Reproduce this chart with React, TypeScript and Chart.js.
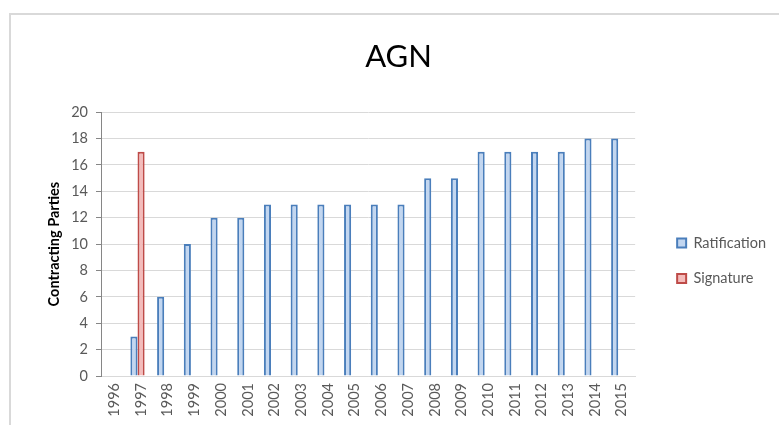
import React, { useEffect, useRef } from "react";
import { Chart, registerables } from "chart.js";

Chart.register(...registerables);

const years = ["1996", "1997", "1998", "1999", "2000", "2001", "2002", "2003", "2004", "2005", "2006", "2007", "2008", "2009", "2010", "2011", "2012", "2013", "2014", "2015"];
const ratification: (number | null)[] = [null, 3, 6, 10, 12, 12, 13, 13, 13, 13, 13, 13, 15, 15, 17, 17, 17, 17, 18, 18];
const signature: (number | null)[] = [null, 17, null, null, null, null, null, null, null, null, null, null, null, null, null, null, null, null, null, null];
const emptySeries: (number | null)[] = years.map(() => null);
const yTicks = [0, 2, 4, 6, 8, 10, 12, 14, 16, 18, 20];

const FONT = "Lato, 'Open Sans', sans-serif";

export default function App() {
  const ref = useRef<HTMLCanvasElement | null>(null);

  useEffect(() => {
    if (!ref.current) return;
    const chart = new Chart(ref.current, {
      type: "bar",
      data: {
        labels: years,
        datasets: [
          {
            label: "Ratification",
            data: ratification,
            backgroundColor: "#c2d6f0",
            borderColor: "#4a7ebb",
            borderWidth: 2,
            categoryPercentage: 0.8,
            barPercentage: 1,
            yAxisID: "y",
          },
          {
            label: "Signature",
            data: signature,
            backgroundColor: "#f4bcbb",
            borderColor: "#be4b48",
            borderWidth: 2,
            categoryPercentage: 0.8,
            barPercentage: 1,
            yAxisID: "y",
          },
          {
            label: "",
            data: emptySeries,
            categoryPercentage: 0.8,
            barPercentage: 1,
            yAxisID: "y",
          },
        ],
      },
      options: {
        animation: false,
        responsive: false,
        maintainAspectRatio: false,
        layout: { padding: { left: 21, right: 3, top: 0, bottom: 0 } },
        plugins: {
          title: {
            display: true,
            text: "AGN",
            color: "#000000",
            font: { family: FONT, size: 31, weight: "normal" },
            padding: { top: 38, bottom: 37 },
          },
          legend: {
            display: true,
            position: "right",
            fullSize: false,
            title: { display: true, text: "", padding: 9.5 },
            labels: {
              color: "#595959",
              font: { family: FONT, size: 14.5 },
              boxWidth: 9,
              boxHeight: 9,
              padding: 21,
              filter: (item: any) => item.text !== "",
            },
          },
          tooltip: { enabled: false },
        },
        scales: {
          x: {
            grid: { display: false, drawTicks: false },
            border: { display: true, color: "#d9d9d9", width: 1 },
            ticks: {
              color: "#595959",
              font: { family: FONT, size: 14.5 },
              minRotation: 90,
              maxRotation: 90,
              padding: 7,
              autoSkip: false,
            },
            afterFit: (s: any) => {
              s.height = 49;
            },
          },
          y: {
            min: 0,
            max: 20,
            position: "left",
            afterBuildTicks: (s: any) => {
              s.ticks = yTicks.map((v) => ({ value: v }));
            },
            grid: { color: "#d9d9d9", tickColor: "#868686", tickLength: 5, lineWidth: 1 },
            border: { display: true, color: "#868686", width: 1 },
            ticks: {
              color: "#595959",
              font: { family: FONT, size: 14.5 },
              padding: 8,
            },
            title: {
              display: true,
              text: "Contracting Parties",
              color: "#000000",
              font: { family: FONT, size: 14.5, weight: "bold" },
              padding: { top: 25, bottom: 4 },
            },
            afterFit: (s: any) => {
              s.width = 80;
            },
          },
          y2: {
            position: "right",
            display: true,
            grid: { display: false, drawTicks: false },
            border: { display: false },
            ticks: { display: false },
            afterFit: (s: any) => {
              s.width = 21;
            },
          },
        },
      },
    });
    return () => chart.destroy();
  }, []);

  return (
    <div style={{ position: "fixed", left: 0, top: 0, width: 779, height: 425, background: "#ffffff", overflow: "hidden" }}>
      <div
        style={{
          position: "absolute",
          left: 9,
          top: 13,
          width: 900,
          height: 600,
          borderLeft: "2px solid #d9d9d9",
          borderTop: "2px solid #d9d9d9",
        }}
      />
      <canvas ref={ref} width={779} height={425} style={{ position: "absolute", left: 0, top: 0, width: 779, height: 425 }} />
    </div>
  );
}
